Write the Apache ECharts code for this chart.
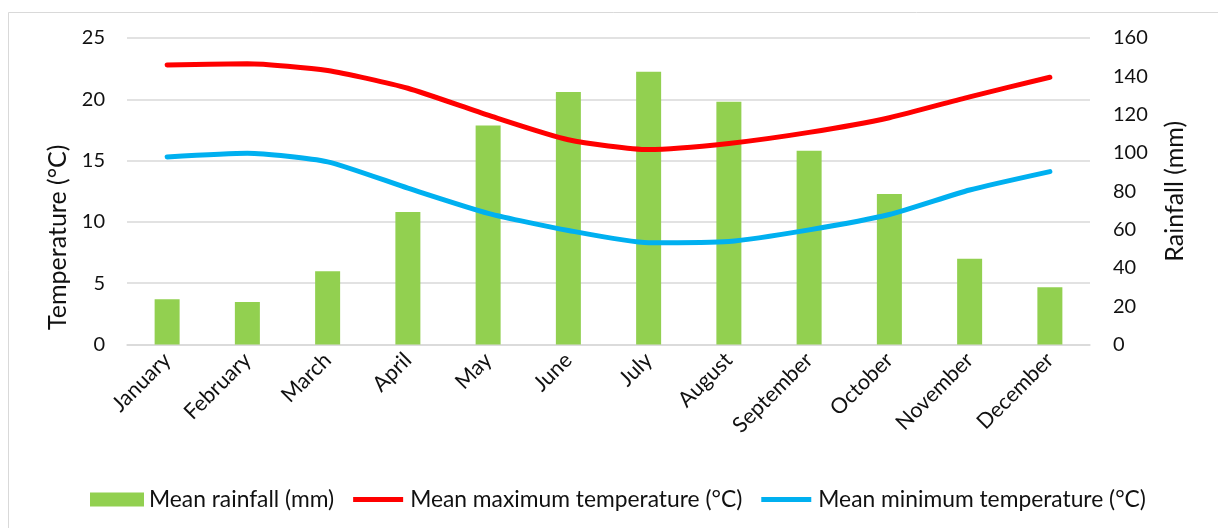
<!DOCTYPE html>
<html><head><meta charset="utf-8">
<script src="https://cdn.jsdelivr.net/npm/echarts@6/dist/echarts.min.js"></script>
<style>html,body{margin:0;padding:0;background:#fff}#c{width:1218px;height:528px}</style>
</head><body><div id="c"></div>
<script>
const months = ["January","February","March","April","May","June","July","August","September","October","November","December"];
const rainfall = [23.6, 22.2, 38.2, 69.2, 114.3, 131.8, 142.4, 126.7, 101.1, 78.5, 44.7, 29.9];
const maxTemp = [22.8, 22.9, 22.35, 20.9, 18.7, 16.7, 15.9, 16.4, 17.3, 18.5, 20.2, 21.8];
const minTemp = [15.3, 15.6, 14.9, 12.75, 10.7, 9.3, 8.3, 8.4, 9.35, 10.6, 12.6, 14.1];
const tempTicks = [0, 25, 5];
const rainTicks = [0, 160, 20];

const FONT = 'Lato, "Open Sans", sans-serif';
const TXT = '#111';
const lineIcon = 'path://M0,0 M0,9 L100,9 L100,19 L0,19 Z M100,28';
const chart = echarts.init(document.getElementById('c'), null, {renderer:'canvas'});
chart.setOption({
  animation:false,
  backgroundColor:'#fff',
  textStyle:{fontFamily:FONT},
  graphic:[{type:'rect', left:6, top:10, shape:{width:1240, height:540}, style:{fill:'none', stroke:'#d9d9d9', lineWidth:1}, silent:true}],
  grid:{left:127, right:128, top:38, bottom:183.5},
  legend:{
    left:85, top:483, itemGap:19, itemWidth:54, itemHeight:14,
    textStyle:{fontFamily:FONT, fontSize:22.8, color:TXT},
    data:[
      {name:'Mean rainfall (mm)', icon:'rect'},
      {name:'Mean maximum temperature (°C)', icon:lineIcon},
      {name:'Mean minimum temperature (°C)', icon:lineIcon}
    ]
  },
  xAxis:{
    type:'category', data:months,
    axisLine:{show:true, lineStyle:{color:'#d9d9d9', width:1.5}},
    axisTick:{show:false},
    axisLabel:{rotate:45, fontSize:21.5, color:TXT, margin:12, interval:0, fontFamily:FONT}
  },
  yAxis:[
    {type:'value', min:tempTicks[0], max:tempTicks[1], interval:tempTicks[2],
     name:'Temperature (°C)', nameLocation:'middle', nameGap:56, nameRotate:90,
     nameTextStyle:{fontSize:25, color:TXT, fontFamily:FONT, padding:[0,92,0,0]},
     axisLine:{show:false}, axisTick:{show:false},
     axisLabel:{fontSize:20, color:TXT, margin:22, fontFamily:FONT},
     splitLine:{lineStyle:{color:'#d9d9d9', width:1.5}}},
    {type:'value', min:rainTicks[0], max:rainTicks[1], interval:rainTicks[2],
     name:'Rainfall (mm)', nameLocation:'middle', nameGap:72, nameRotate:90,
     nameTextStyle:{fontSize:25, color:TXT, fontFamily:FONT},
     axisLine:{show:false}, axisTick:{show:false},
     axisLabel:{fontSize:20, color:TXT, margin:23, fontFamily:FONT},
     splitLine:{show:false}}
  ],
  series:[
    {name:'Mean rainfall (mm)', type:'bar', yAxisIndex:1, data:rainfall, barWidth:25,
     itemStyle:{color:'#92D050'}},
    {name:'Mean maximum temperature (°C)', type:'line', yAxisIndex:0, data:maxTemp, smooth:0.2,
     symbol:'none', lineStyle:{color:'#FF0000', width:5, cap:'round'}, itemStyle:{color:'#FF0000'}},
    {name:'Mean minimum temperature (°C)', type:'line', yAxisIndex:0, data:minTemp, smooth:0.2,
     symbol:'none', lineStyle:{color:'#00B0F0', width:5, cap:'round'}, itemStyle:{color:'#00B0F0'}}
  ]
});
</script></body></html>
